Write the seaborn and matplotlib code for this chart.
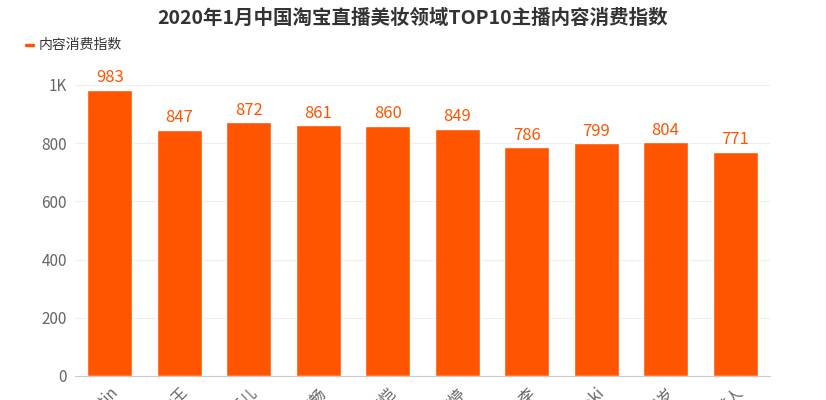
import matplotlib
matplotlib.use("Agg")
import matplotlib.pyplot as plt
import seaborn as sns
import pandas as pd

anchors = ['李佳琦Austin', '美妆女王', '雪梨丽儿', '陈红畅', '林宝恺', '张婷婷', '小李', '陈Koki', '千岁岁', '美人']
values = [983, 847, 872, 861, 860, 849, 786, 799, 804, 771]
yticks = [0, 200, 400, 600, 800, 1000]
ytick_labels = ['0', '200', '400', '600', '800', '1K']

df = pd.DataFrame({'anchor': anchors, 'value': values})

sns.set_style('white')
plt.rcParams['font.family'] = ['Noto Sans CJK SC', 'DejaVu Sans']

fig = plt.figure(figsize=(8.26, 4.0), dpi=100)
ax = fig.add_axes([0.091, 0.06, 0.841, 0.7275])
sns.barplot(data=df, x='anchor', y='value', color='#FF5500', saturation=1, width=0.65, ax=ax)

for i, v in enumerate(values):
    ax.text(i, v + 12, str(v), ha='center', va='bottom', fontsize=12, color='#FF5500')

ax.set_ylim(0, 1000)
ax.set_yticks(yticks)
ax.set_yticklabels(ytick_labels, color='#666666', fontsize=11)
ax.yaxis.grid(True, color='#eeeeee', linewidth=0.8)
ax.set_axisbelow(True)
ax.set_xlabel('')
ax.set_ylabel('')
plt.setp(ax.get_xticklabels(), rotation=45, ha='right', rotation_mode='anchor', color='#666666', fontsize=11)
ax.tick_params(axis='both', length=0, pad=6)
for s in ['top', 'right', 'left']:
    ax.spines[s].set_visible(False)
ax.spines['bottom'].set_color('#cccccc')

fig.text(0.5, 0.955, '2020年1月中国淘宝直播美妆领域TOP10主播内容消费指数', ha='center', va='center',
         fontsize=14, fontweight='bold', color='#333333')
fig.lines.append(plt.Line2D([0.032, 0.040], [0.888, 0.888], transform=fig.transFigure, color='#FF5500', linewidth=2.5))
fig.text(0.047, 0.888, '内容消费指数', ha='left', va='center', fontsize=10, color='#333333')

fig.savefig('out.png', dpi=100)
